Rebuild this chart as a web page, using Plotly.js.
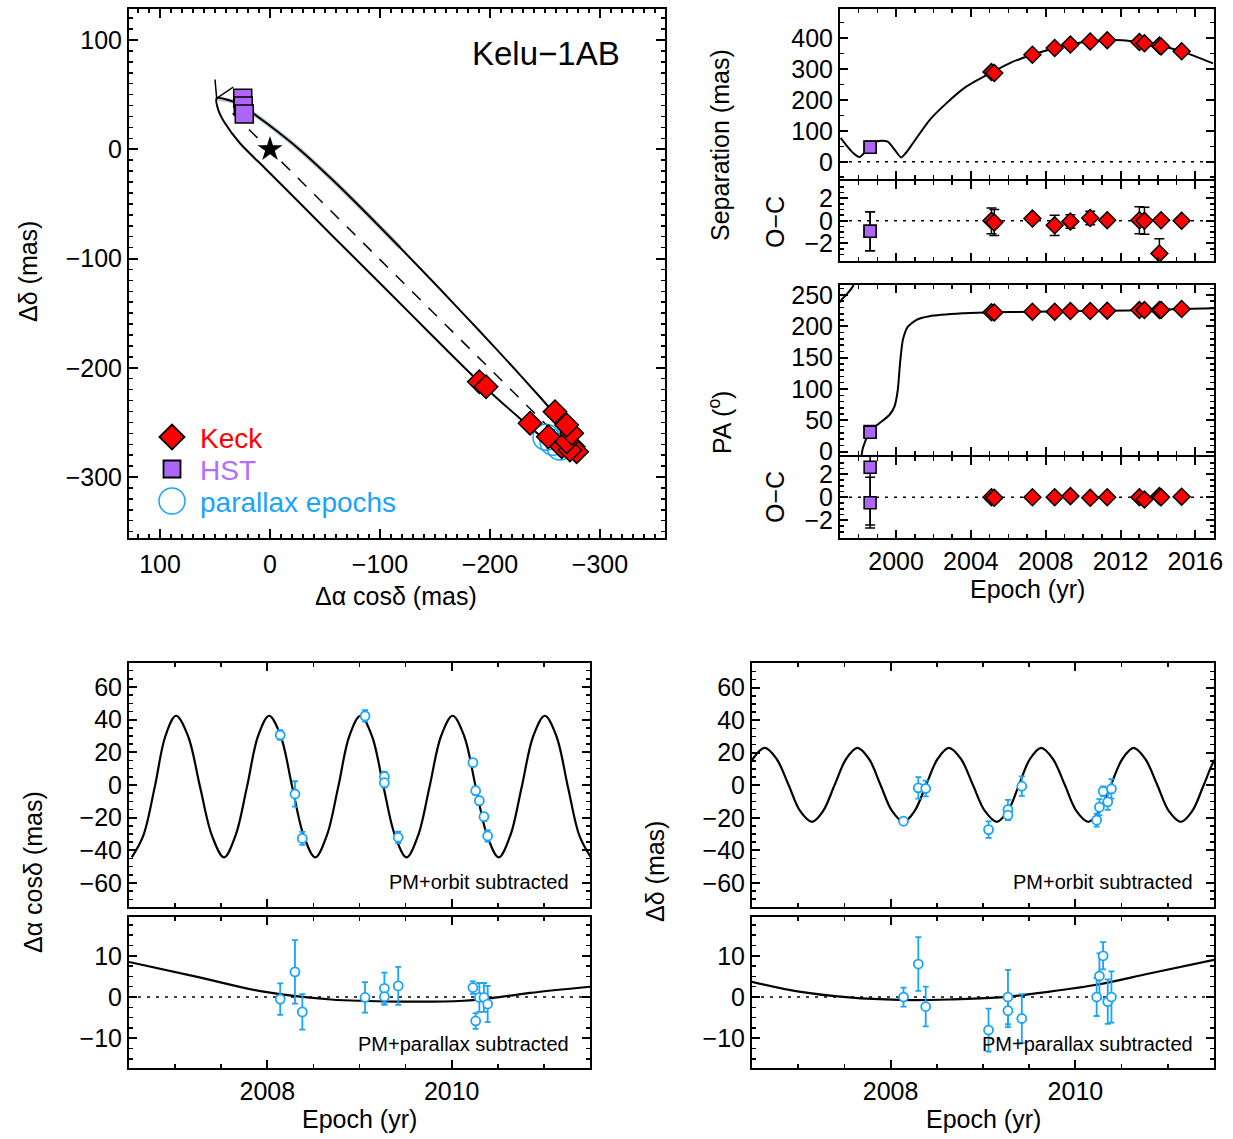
<!DOCTYPE html>
<html><head><meta charset="utf-8">
<script src="https://cdn.plot.ly/plotly-3.0.1.min.js"></script>
<style>html,body{margin:0;padding:0;background:#fff}</style>
</head><body>
<div id="chart" style="width:1233px;height:1139px"></div>
<script>
// ================= DATA =================
// Panel A: relative orbit (mas)
const orbitDx = [48.5, 33.4, 24.3, 3.0, -27.3, -57.5, -87.9, -118.2, -154.5, -190.9, -221.2, -242.5, -254.5, -265.5, -274.5, -278.2, -272.7, -263.6, -245.5, -227.3, -206.1, -184.8, -160.6, -130.3, -87.9, -57.5, -27.3, 3.0, 27.3, 40.9, 47.0, 48.5];
const orbitDy = [46.7, 43.6, 39.0, 23.8, -0.6, -28.6, -58.8, -89.9, -127.9, -166.8, -199.7, -223.5, -237.3, -251.4, -267.9, -280.7, -282.8, -276.6, -262.0, -246.4, -227.6, -207.7, -183.7, -153.2, -110.5, -80.0, -49.4, -18.9, 5.5, 23.8, 36.0, 46.7];
const nodeDx = [34, -265];
const nodeDy = [33, -266];
const arrowDx = [50.0, 48.5, 33.4];
const arrowDy = [63.9, 46.7, 57.0];
const starDx = [0];
const starDy = [0];
const keckDx = [-190.3, -196.4, -236.4, -253.0, -265.2, -275.7, -278.8, -272.7, -269.7, -274.3, -269.7, -259.1];
const keckDy = [-212.7, -217.3, -250.8, -263.1, -272.2, -272.2, -276.8, -275.2, -267.6, -260.0, -252.4, -240.2];
const hstDx = [24.8, 24.3, 23.4];
const hstDy = [46.7, 39.6, 32.3];
const plxOrbDx = [-250.9, -257.3, -263.6];
const plxOrbDy = [-263.6, -268.2, -272.5];

// Separation / PA vs epoch
const keckEpoch = [2005.10, 2005.25, 2007.29, 2008.48, 2009.32, 2010.38, 2011.29, 2013.01, 2013.28, 2014.08, 2014.17, 2015.27];
const keckSep   = [290, 287, 346, 368, 379, 389, 393, 387, 383, 376, 373, 357];
const keckSepOC = [0.0, -0.15, 0.2, -0.4, -0.05, 0.25, 0.05, 0.05, 0.0, -2.9, 0.05, 0.0];
const keckSepErr = [1.15, 1.15, 0.3, 0.9, 0.6, 0.6, 0.3, 1.2, 1.2, 1.3, 0.3, 0.3];
const keckPA    = [222.3, 222.0, 223.3, 223.3, 224.3, 224.3, 224.9, 225.9, 225.9, 225.9, 226.2, 227.6];
const keckPAOC  = [0.0, -0.05, 0.0, 0.0, 0.1, -0.05, 0.0, 0.0, -0.2, 0.1, 0.0, 0.05];
const keckPAErr = [0.2, 0.2, 0.2, 0.2, 0.2, 0.2, 0.2, 0.2, 0.2, 0.2, 0.2, 0.2];
const hstEpoch = [1998.61, 1998.61];
const hstSep   = [48, 47];
const hstSepOC = [-0.92, -0.92];
const hstSepErr = [1.73, 1.73];
const hstPA    = [32, 31];
const hstPAOC  = [2.6, -0.47];
const hstPAErr = [5.0, 2.2];

const sepCurveT = [1997.03, 1997.33, 1997.69, 1998.04, 1998.31, 1998.58, 1998.84, 1999.2, 1999.55, 1999.91, 2000.27, 2000.53, 2000.89, 2001.78, 2002.67, 2003.73, 2005.15, 2006.22, 2007.29, 2008.48, 2009.81, 2011.29, 2012.09, 2013.01, 2014.08, 2015.27, 2016.95];
const sepCurveV = [77, 54, 29, 15, 29, 48, 63, 68, 65, 40, 14, 29, 59, 134, 188, 242, 290, 323, 346, 368, 385, 393, 393, 387, 376, 357, 318];
const paCurveT = [1997.0, 1997.07, 1997.33, 1997.69, 1997.85, null, 1998.12, 1998.22, 1998.58, 1999.1, 1999.64, 1999.91, 2000.09, 2000.21, 2000.36, 2000.62, 2001.07, 2001.78, 2003.55, 2005.17, 2007.29, 2009.5, 2011.29, 2013.5, 2015.27, 2017.0];
const paCurveV = [238, 242, 250, 264, 282, null, -14, 5.4, 31.9, 45.3, 58.5, 71.8, 98.4, 141, 178, 199, 210, 216, 220.7, 222.3, 223.3, 224.3, 224.9, 225.9, 227.6, 228.7];

// Parallax epochs (bottom panels)
const plxEpoch = [2008.14, 2008.30, 2008.38, 2009.06, 2009.27, 2009.27, 2009.42, 2010.23, 2010.26, 2010.30, 2010.35, 2010.39];
const raOrbSub   = [30.6, -5.5, -32.7, 42.3, 5.1, 1.4, -32.0, 13.7, -3.5, -9.6, -19.4, -31.2];
const raOrbErr   = [3.0, 7.8, 4.0, 3.5, 3.0, 3.0, 3.5, 2.0, 2.5, 2.5, 2.5, 3.5];
const raPlxSub   = [-0.5, 6.1, -3.6, -0.1, 2.1, 0.1, 2.7, 2.3, -5.8, -0.1, -0.1, -1.7];
const raPlxErr   = [3.8, 7.7, 4.3, 3.7, 3.8, 2.0, 4.6, 1.5, 1.9, 3.5, 3.5, 4.4];
const decOrbSub  = [-22.1, -1.6, -2.0, -27.3, -15.0, -18.4, -0.6, -21.5, -13.5, -3.7, -10.2, -2.2];
const decOrbErr  = [1.2, 6.6, 4.9, 5.1, 6.0, 3.0, 6.0, 4.0, 5.0, 3.0, 5.0, 6.0];
const decPlxSub  = [0.0, 8.0, -2.3, -8.0, 0.0, -3.3, -5.2, 0.0, 5.1, 10.0, -1.1, 0.0];
const decPlxErr  = [2.3, 6.5, 4.8, 5.2, 6.6, 4.0, 5.9, 4.6, 5.5, 3.3, 5.4, 6.2];

const raPlxCurveT = [2006.53, 2006.655, 2006.78, 2006.895, 2007.01, 2007.14, 2007.27, 2007.40, 2007.53, 2007.655, 2007.78, 2007.90, 2008.02, 2008.145, 2008.27, 2008.395, 2008.52, 2008.645, 2008.77, 2008.89, 2009.01, 2009.135, 2009.26, 2009.385, 2009.51, 2009.635, 2009.76, 2009.885, 2010.01, 2010.135, 2010.26, 2010.385, 2010.51, 2010.635, 2010.76, 2010.885, 2011.01, 2011.135, 2011.26, 2011.385, 2011.51];
const raPlxCurveV = [-44.3, -31, -1, 30, 42.4, 30, -1, -31, -44.3, -31, -1, 30, 42.4, 30, -1, -31, -44.3, -31, -1, 30, 42.4, 30, -1, -31, -44.3, -31, -1, 30, 42.4, 30, -1, -31, -44.3, -31, -1, 30, 42.4, 30, -1, -31, -44.3];
const raOrbCurveT = [2006.5, 2007.24, 2007.96, 2008.69, 2009.41, 2010.13, 2010.49, 2010.85, 2011.5];
const raOrbCurveV = [8.5, 4.9, 1.3, -0.6, -1.1, -0.9, -0.1, 1.0, 2.5];
const decPlxCurveT = [2006.38, 2006.51, 2006.64, 2006.765, 2006.895, 2007.02, 2007.15, 2007.27, 2007.395, 2007.52, 2007.64, 2007.765, 2007.89, 2008.015, 2008.14, 2008.26, 2008.385, 2008.51, 2008.63, 2008.76, 2008.89, 2009.02, 2009.15, 2009.27, 2009.39, 2009.51, 2009.63, 2009.755, 2009.885, 2010.01, 2010.14, 2010.26, 2010.385, 2010.51, 2010.63, 2010.755, 2010.885, 2011.01, 2011.14, 2011.265, 2011.39, 2011.515, 2011.64];
const decPlxCurveV = [0.3, 16.3, 23, 16.3, 0.3, -15.8, -22.5, -15.8, 0.3, 16.3, 23, 16.3, 0.3, -15.8, -22.5, -15.8, 0.3, 16.3, 23, 16.3, 0.3, -15.8, -22.5, -15.8, 0.3, 16.3, 23, 16.3, 0.3, -15.8, -22.5, -15.8, 0.3, 16.3, 23, 16.3, 0.3, -15.8, -22.5, -15.8, 0.3, 16.3, 23];
const decOrbCurveT = [2006.5, 2007.01, 2007.55, 2008.09, 2008.64, 2009.18, 2009.72, 2010.26, 2010.80, 2011.5];
const decOrbCurveV = [3.7, 1.3, -0.1, -0.7, -0.6, -0.1, 1.3, 3.1, 5.7, 9.0];

// Legend entries (panel A)
const legendLabels = ['Keck', 'HST', 'parallax epochs'];

// ================= STYLE =================
const FONT = 'Liberation Sans, Arial, Helvetica, sans-serif';
const W = 1233, H = 1139;
const RED = '#ff0000', PURPLE = '#ae66f8', PURPLE_TXT = '#b46cff', BLUE = '#19a3fb';
const px = (a, b) => [a / W, b / W];
const py = (top, bot) => [1 - bot / H, 1 - top / H];

function axis(extra, minorDtick) {
  const a = {
    showline: true, linewidth: 2, linecolor: 'black', mirror: 'ticks',
    ticks: 'inside', ticklen: 8, tickwidth: 2, tickcolor: 'black',
    showgrid: false, zeroline: false, autorange: false,
    tickfont: {size: 25, family: FONT, color: 'black'}
  };
  if (minorDtick) a.minor = {ticks: 'inside', ticklen: 4, tickwidth: 1.5, tickcolor: 'black', dtick: minorDtick, showgrid: false};
  return Object.assign(a, extra);
}

const traces = [];
// ---- Panel A ----
traces.push({x: orbitDx.slice(0, 8), y: orbitDy.slice(0, 8), xaxis: 'x', yaxis: 'y', mode: 'lines',
  line: {color: 'rgba(120,140,160,0.45)', width: 4.5, shape: 'spline', smoothing: 0.8}, showlegend: false, hoverinfo: 'skip'});
traces.push({x: orbitDx, y: orbitDy, xaxis: 'x', yaxis: 'y', mode: 'lines',
  line: {color: 'black', width: 2, shape: 'spline', smoothing: 0.8}, showlegend: false});
traces.push({x: nodeDx, y: nodeDy, xaxis: 'x', yaxis: 'y', mode: 'lines',
  line: {color: 'black', width: 1.5, dash: '12px,11px'}, showlegend: false});
traces.push({x: arrowDx, y: arrowDy, xaxis: 'x', yaxis: 'y', mode: 'lines',
  line: {color: 'black', width: 1.5}, showlegend: false});
traces.push({x: starDx, y: starDy, xaxis: 'x', yaxis: 'y', mode: 'markers',
  marker: {symbol: 'star', size: 19, color: 'black'}, showlegend: false});
traces.push({x: plxOrbDx, y: plxOrbDy, xaxis: 'x', yaxis: 'y', mode: 'markers', name: legendLabels[2], showlegend: false,
  marker: {symbol: 'circle-open', size: 26, color: BLUE, line: {width: 1.5, color: BLUE}}});
traces.push({x: hstDx, y: hstDy, xaxis: 'x', yaxis: 'y', mode: 'markers', name: legendLabels[1], showlegend: false,
  marker: {symbol: 'square', size: 18, color: PURPLE, line: {width: 1.5, color: 'black'}}});
traces.push({x: keckDx, y: keckDy, xaxis: 'x', yaxis: 'y', mode: 'markers', name: legendLabels[0], showlegend: false,
  marker: {symbol: 'diamond', size: 18, color: RED, line: {width: 1.5, color: 'black'}}});

// ---- Separation ----
traces.push({x: sepCurveT, y: sepCurveV, xaxis: 'x2', yaxis: 'y2', mode: 'lines',
  line: {color: 'black', width: 2, shape: 'spline', smoothing: 0.7}, showlegend: false});
traces.push({x: hstEpoch, y: hstSep, xaxis: 'x2', yaxis: 'y2', mode: 'markers', showlegend: false,
  marker: {symbol: 'square', size: 12, color: PURPLE, line: {width: 1.5, color: 'black'}}});
traces.push({x: keckEpoch, y: keckSep, xaxis: 'x2', yaxis: 'y2', mode: 'markers', showlegend: false,
  marker: {symbol: 'diamond', size: 13, color: RED, line: {width: 1.5, color: 'black'}}});
// Sep O-C
traces.push({x: hstEpoch, y: hstSepOC, xaxis: 'x3', yaxis: 'y3', mode: 'markers', showlegend: false,
  error_y: {type: 'data', array: hstSepErr, color: 'black', thickness: 1.5, width: 5},
  marker: {symbol: 'square', size: 12, color: PURPLE, line: {width: 1.5, color: 'black'}}});
traces.push({x: keckEpoch, y: keckSepOC, xaxis: 'x3', yaxis: 'y3', mode: 'markers', showlegend: false,
  error_y: {type: 'data', array: keckSepErr, color: 'black', thickness: 1.5, width: 5},
  marker: {symbol: 'diamond', size: 13, color: RED, line: {width: 1.5, color: 'black'}}});
// PA
traces.push({x: paCurveT, y: paCurveV, xaxis: 'x4', yaxis: 'y4', mode: 'lines', connectgaps: false,
  line: {color: 'black', width: 2, shape: 'spline', smoothing: 0.6}, showlegend: false});
traces.push({x: hstEpoch, y: hstPA, xaxis: 'x4', yaxis: 'y4', mode: 'markers', showlegend: false,
  marker: {symbol: 'square', size: 12, color: PURPLE, line: {width: 1.5, color: 'black'}}});
traces.push({x: keckEpoch, y: keckPA, xaxis: 'x4', yaxis: 'y4', mode: 'markers', showlegend: false,
  marker: {symbol: 'diamond', size: 13, color: RED, line: {width: 1.5, color: 'black'}}});
// PA O-C
traces.push({x: hstEpoch, y: hstPAOC, xaxis: 'x5', yaxis: 'y5', mode: 'markers', showlegend: false,
  error_y: {type: 'data', array: hstPAErr, color: 'black', thickness: 1.5, width: 5},
  marker: {symbol: 'square', size: 12, color: PURPLE, line: {width: 1.5, color: 'black'}}});
traces.push({x: keckEpoch, y: keckPAOC, xaxis: 'x5', yaxis: 'y5', mode: 'markers', showlegend: false,
  error_y: {type: 'data', array: keckPAErr, color: 'black', thickness: 1.5, width: 5},
  marker: {symbol: 'diamond', size: 13, color: RED, line: {width: 1.5, color: 'black'}}});

// ---- Bottom panels ----
function plxPts(y, err, xa, ya) {
  return {x: plxEpoch, y: y, xaxis: xa, yaxis: ya, mode: 'markers', showlegend: false,
    error_y: {type: 'data', array: err, color: BLUE, thickness: 1.8, width: 3},
    marker: {symbol: 'circle', size: 9, color: 'white', line: {width: 1.8, color: BLUE}}};
}
function curve(t, v, xa, ya) {
  return {x: t, y: v, xaxis: xa, yaxis: ya, mode: 'lines', showlegend: false,
    line: {color: 'black', width: 2.2, shape: 'spline', smoothing: 1}};
}
traces.push(curve(raPlxCurveT, raPlxCurveV, 'x6', 'y6'));
traces.push(plxPts(raOrbSub, raOrbErr, 'x6', 'y6'));
traces.push(curve(raOrbCurveT, raOrbCurveV, 'x7', 'y7'));
traces.push(plxPts(raPlxSub, raPlxErr, 'x7', 'y7'));
traces.push(curve(decPlxCurveT, decPlxCurveV, 'x8', 'y8'));
traces.push(plxPts(decOrbSub, decOrbErr, 'x8', 'y8'));
traces.push(curve(decOrbCurveT, decOrbCurveV, 'x9', 'y9'));
traces.push(plxPts(decPlxSub, decPlxErr, 'x9', 'y9'));

// ================= LAYOUT =================
const epochTop = {range: [1997, 2017], tick0: 2000, dtick: 4, domain: px(840, 1214)};
const epochBotL = {range: [2006.5, 2011.5], tick0: 2008, dtick: 2, domain: px(129, 590)};
const epochBotR = {range: [2006.5, 2011.5], tick0: 2008, dtick: 2, domain: px(752, 1214)};

const layout = {
  width: W, height: H, margin: {l: 0, r: 0, t: 0, b: 0},
  paper_bgcolor: 'white', plot_bgcolor: 'white',
  font: {family: FONT, color: 'black', size: 25},
  showlegend: false,
  xaxis: axis({domain: px(129, 665), range: [128.2, -359.1], tick0: 0, dtick: 100, anchor: 'y', ticklen: 9, ticklabelstandoff: 3}, 10),
  yaxis: axis({domain: py(9, 538), range: [-355.8, 128.4], tick0: 0, dtick: 100, anchor: 'x', ticklen: 9}, 10),
  xaxis2: axis(Object.assign({anchor: 'y2', showticklabels: false}, epochTop), 1),
  yaxis2: axis({domain: py(9, 179), range: [-55.8, 494], tick0: 0, dtick: 100, anchor: 'x2'}, 50),
  xaxis3: axis(Object.assign({anchor: 'y3', showticklabels: false}, epochTop), 1),
  yaxis3: axis({domain: py(181, 261), range: [-3.57, 3.54], tickvals: [-2, 0, 2], anchor: 'x3'}, 0.5),
  xaxis4: axis(Object.assign({anchor: 'y4', showticklabels: false}, epochTop), 1),
  yaxis4: axis({domain: py(285, 455), range: [-5.3, 265.9], tick0: 0, dtick: 50, anchor: 'x4'}, 10),
  xaxis5: axis(Object.assign({anchor: 'y5'}, epochTop), 1),
  yaxis5: axis({domain: py(457, 538), range: [-3.54, 3.5], tickvals: [-2, 0, 2], anchor: 'x5'}, 0.5),
  xaxis6: axis(Object.assign({anchor: 'y6', showticklabels: false}, epochBotL), 0.5),
  yaxis6: axis({domain: py(663, 907), range: [-74.7, 74.7], tick0: 0, dtick: 20, anchor: 'x6'}, 5),
  xaxis7: axis(Object.assign({anchor: 'y7'}, epochBotL), 0.5),
  yaxis7: axis({domain: py(917, 1068), range: [-17.2, 19.4], tickvals: [-10, 0, 10], anchor: 'x7'}, 2.5),
  xaxis8: axis(Object.assign({anchor: 'y8', showticklabels: false}, epochBotR), 0.5),
  yaxis8: axis({domain: py(663, 907), range: [-74.9, 75.2], tick0: 0, dtick: 20, anchor: 'x8'}, 5),
  xaxis9: axis(Object.assign({anchor: 'y9'}, epochBotR), 0.5),
  yaxis9: axis({domain: py(917, 1068), range: [-17.2, 19.4], tickvals: [-10, 0, 10], anchor: 'x9'}, 2.5),
  shapes: ['2', '3', '5', '7', '9'].map(k => ({type: 'line', xref: 'x' + k + ' domain', yref: 'y' + k,
    x0: 0, x1: 1, y0: 0, y1: 0, line: {color: 'black', width: 1.5, dash: '3px,6px'}, layer: 'below'})),
  annotations: []
};

// ---- legend key for panel A (drawn as shapes + coloured text) ----
const X = v => v / W, Y = v => 1 - v / H;
layout.shapes.push({type: 'path', xref: 'paper', yref: 'paper',
  path: 'M' + X(159.5) + ',' + Y(437) + ' L' + X(172) + ',' + Y(424.5) + ' L' + X(184.5) + ',' + Y(437) + ' L' + X(172) + ',' + Y(449.5) + ' Z',
  fillcolor: RED, line: {color: 'black', width: 1.8}});
layout.shapes.push({type: 'rect', xref: 'paper', yref: 'paper', x0: X(163.5), x1: X(180.5), y0: Y(477.5), y1: Y(460.5),
  fillcolor: PURPLE, line: {color: 'black', width: 1.8}});
layout.shapes.push({type: 'circle', xref: 'paper', yref: 'paper', x0: X(159), x1: X(185), y0: Y(514), y1: Y(488),
  line: {color: BLUE, width: 1.5}});

function ann(text, xPix, yPix, opts) {
  layout.annotations.push(Object.assign({text: text, x: xPix / W, y: 1 - yPix / H, xref: 'paper', yref: 'paper',
    showarrow: false, xanchor: 'center', yanchor: 'middle', font: {size: 25, family: FONT, color: 'black'}}, opts || {}));
}
ann(legendLabels[0], 198, 438, {xanchor: 'left', font: {size: 28, family: FONT, color: RED}});
ann(legendLabels[1], 198, 470, {xanchor: 'left', font: {size: 28, family: FONT, color: PURPLE_TXT}});
ann(legendLabels[2], 198, 502, {xanchor: 'left', font: {size: 28, family: FONT, color: BLUE}});
ann('Kelu−1AB', 622, 53, {xanchor: 'right', font: {size: 33, family: FONT, color: 'black'}});
ann('Δδ (mas)', 28, 272, {textangle: -90});
ann('Δα cosδ (mas)', 396, 596);
ann('Separation (mas)', 720, 145, {textangle: -90});
ann('O−C', 775, 222, {textangle: -90});
ann('PA (<sup>o</sup>)', 720, 422, {textangle: -90});
ann('O−C', 775, 497, {textangle: -90});
ann('Epoch (yr)', 1027, 589);
ann('Δα cosδ (mas)', 33, 872, {textangle: -90});
ann('Epoch (yr)', 360, 1119);
ann('Δδ (mas)', 655, 872, {textangle: -90});
ann('Epoch (yr)', 983, 1119);
ann('PM+orbit subtracted', 571, 882, {xanchor: 'right', font: {size: 20, family: FONT, color: 'black'}});
ann('PM+parallax subtracted', 571, 1044, {xanchor: 'right', font: {size: 20, family: FONT, color: 'black'}});
ann('PM+orbit subtracted', 1195, 882, {xanchor: 'right', font: {size: 20, family: FONT, color: 'black'}});
ann('PM+parallax subtracted', 1195, 1044, {xanchor: 'right', font: {size: 20, family: FONT, color: 'black'}});

Plotly.newPlot('chart', traces, layout, {staticPlot: true, displayModeBar: false});
</script>
</body></html>
